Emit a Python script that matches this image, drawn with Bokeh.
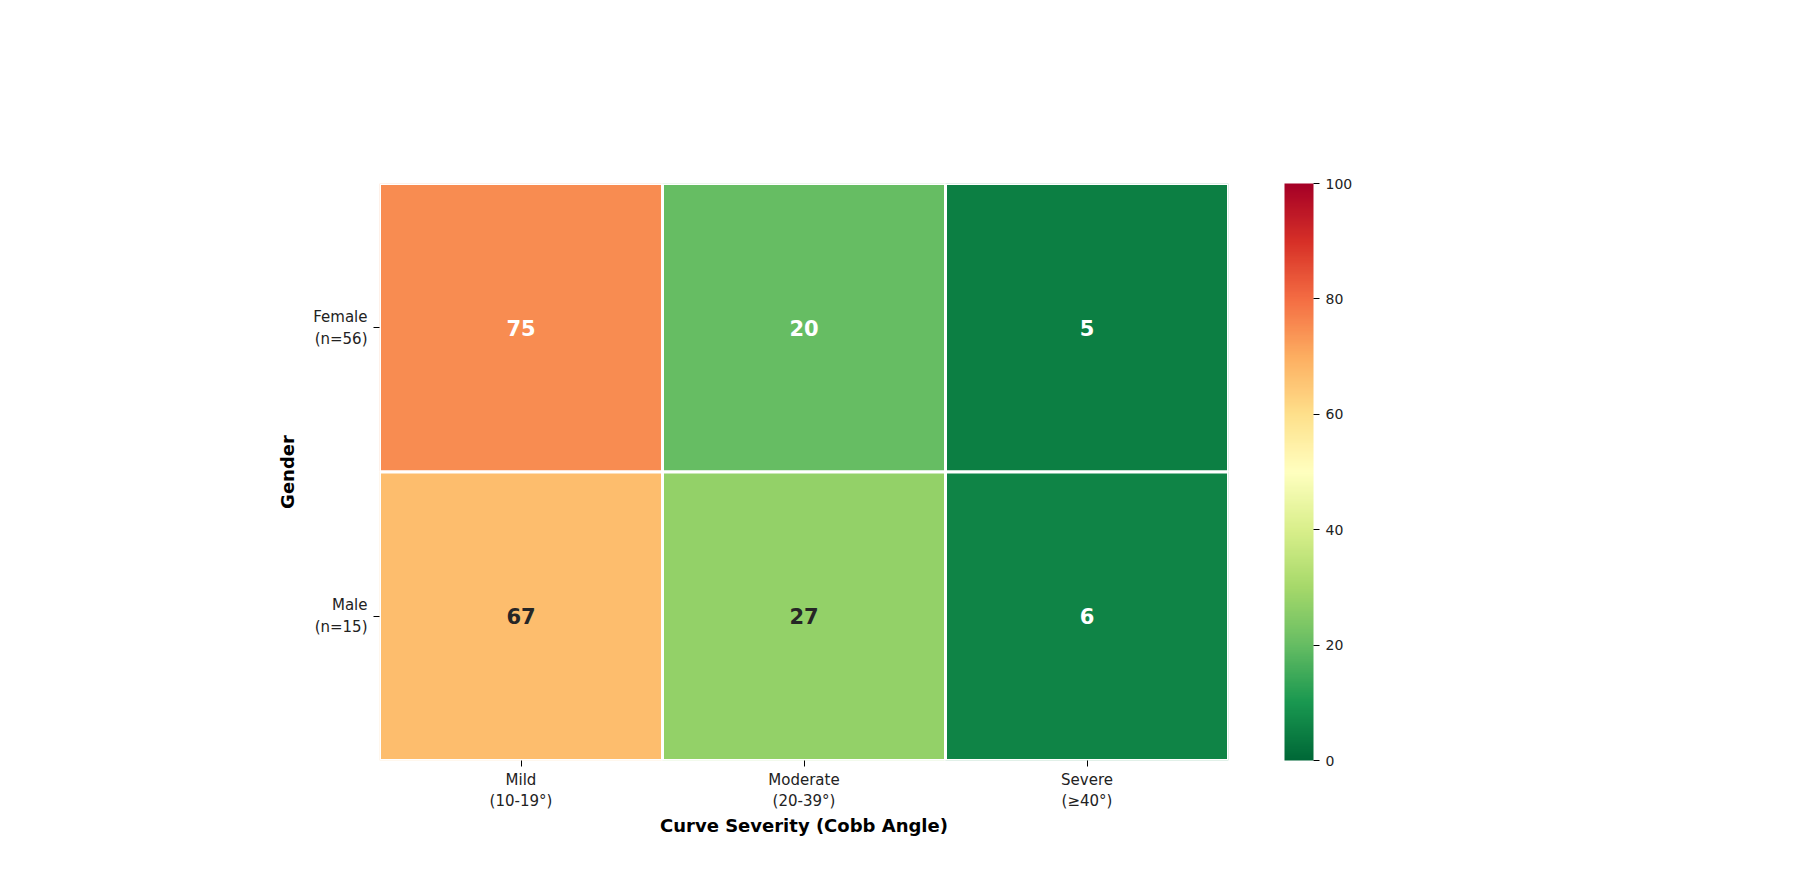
import numpy as np
from bokeh.plotting import figure
from bokeh.models import ColumnDataSource, LinearColorMapper, ColorBar, Label, FixedTicker
from bokeh.palettes import RdYlGn11
from bokeh.colors import RGB
from bokeh.embed import file_html
from bokeh.resources import INLINE

severity = ["Mild\n(10-19°)", "Moderate\n(20-39°)", "Severe\n(≥40°)"]
gender = ["Male\n(n=15)", "Female\n(n=56)"]
female = [75, 20, 5]
male = [67, 27, 6]

# smooth RdYlGn_r palette from the 11 anchor colours (bokeh's RdYlGn11 runs green -> red)
anchors = list(RdYlGn11)
rgb = np.array([[int(c[i:i + 2], 16) for i in (1, 3, 5)] for c in anchors], dtype=float)
t = np.linspace(0, 1, 256)
pos = np.linspace(0, 1, len(anchors))
palette = [RGB(*[int(round(np.interp(v, pos, rgb[:, k]))) for k in range(3)]).to_hex() for v in t]
mapper = LinearColorMapper(palette=palette, low=0, high=100)

xs, ys, vals, tcol = [], [], [], []
for g, row in zip(["Female\n(n=56)", "Male\n(n=15)"], [female, male]):
    for s, v in zip(severity, row):
        xs.append(s)
        ys.append(g)
        vals.append(v)
        tcol.append("#262626" if 22 <= v <= 70 else "white")
src = ColumnDataSource(dict(x=xs, y=ys, v=vals, label=[str(v) for v in vals], tc=tcol))

FW, FH = 849, 577
left, top = 379, 183
p = figure(x_range=severity, y_range=gender, width=1794, height=876,
           output_backend="svg", toolbar_location=None,
           min_border_left=left, min_border_right=1794 - left - FW,
           min_border_top=top, min_border_bottom=876 - top - FH)
p.rect("x", "y", 1, 1, source=src, fill_color={"field": "v", "transform": mapper},
       line_color="white", line_width=3)
p.text("x", "y", text="label", source=src, text_color="tc", text_align="center",
       text_baseline="middle", text_font_size="21px", text_font_style="bold",
       text_font={"value": "DejaVu Sans"})

for txt, yy in (("Distribution of Scoliosis Severity by Gender", FH + 82),
                ("(Percentage Distribution)", FH + 55)):
    p.add_layout(Label(x=FW / 2, y=yy, x_units="screen", y_units="screen", text=txt,
                       text_align="center", text_baseline="middle", text_font="DejaVu Sans",
                       text_font_size="23px", text_font_style="bold", text_color="black"))

p.outline_line_color = None
p.grid.grid_line_color = None
p.background_fill_color = "white"

for ax, lab in ((p.xaxis[0], "Curve Severity (Cobb Angle)"), (p.yaxis[0], "Gender")):
    ax.axis_label = lab
    ax.axis_label_text_font = "DejaVu Sans"
    ax.axis_label_text_font_style = "bold"
    ax.axis_label_text_font_size = "18px"
    ax.axis_label_text_color = "black"
    ax.major_label_text_font = "DejaVu Sans"
    ax.major_label_text_font_size = "15px"
    ax.major_label_text_color = "#222222"
    ax.axis_line_color = None
    ax.major_tick_out = 6
    ax.major_tick_in = 0
    ax.major_tick_line_color = "black"
p.xaxis.major_label_standoff = 4
p.xaxis.axis_label_standoff = 2
p.yaxis.major_label_standoff = 6
p.yaxis.axis_label_standoff = 12

cb = ColorBar(color_mapper=mapper, width=29, height=FH, padding=0, margin=0,
              ticker=FixedTicker(ticks=[0, 20, 40, 60, 80, 100]),
              major_label_text_font="DejaVu Sans", major_label_text_font_size="14px",
              major_label_text_color="#222222",
              major_tick_out=6, major_tick_in=0, major_tick_line_color="black",
              bar_line_color=None, label_standoff=6, location=(FW + 56, 0))
p.add_layout(cb, "center")

p.add_layout(Label(x=FW + 133, y=FH / 2, x_units="screen", y_units="screen", angle=np.pi / 2,
                   text="Percentage (%)", text_align="center", text_baseline="middle",
                   text_font="DejaVu Sans", text_font_size="15px", text_color="#222222"))

open("out.html", "w").write(file_html(p, INLINE))
